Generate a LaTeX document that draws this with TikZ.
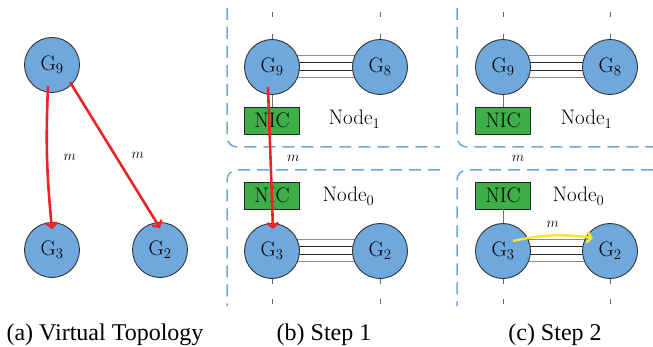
\documentclass[tikz,border=0pt]{standalone}
\usepackage{fontspec}
\usepackage{tikz}
\usetikzlibrary{arrows.meta,backgrounds}
\newfontfamily\capfont{Liberation Serif}
\definecolor{gpublue}{HTML}{6FA8DC}
\definecolor{nicgreen}{HTML}{3DAE48}
\definecolor{boxblue}{HTML}{6FA8DC}
\definecolor{msgred}{HTML}{EE2229}
\definecolor{msgyellow}{HTML}{F2E52C}

\begin{document}
\begin{tikzpicture}[x=1pt, y=-1pt, line join=round,
    every node/.append style={font=\fontsize{21}{25}\selectfont},
    gpu/.style={circle, draw=black!80, line width=0.9pt, fill=gpublue, minimum size=55pt, inner sep=0pt},
    nic/.style={rectangle, draw=black!85, line width=0.9pt, fill=nicgreen, minimum width=55pt, minimum height=27pt, inner sep=0pt},
    hostbox/.style={draw=boxblue, line width=1.5pt, dash pattern=on 12pt off 7pt, rounded corners=10pt},
    tick/.style={draw=black!60, line width=0.8pt, dash pattern=on 5pt off 17pt},
    link/.style={draw=black!55, line width=1pt},
    msg/.style={msgred, line width=2.6pt, -{Straight Barb[length=4.5pt,width=11pt]}},
    mlabel/.style={font=\fontsize{14.4}{17}\selectfont, text=black},
    caption/.style={anchor=base, font=\capfont\fontsize{24}{28}\selectfont}]
  \useasboundingbox (0,0) rectangle (653,347);

  % (a) virtual topology
  \node (a9) [gpu] at (52,65) {G\textsubscript{9}};
  \node (a3) [gpu] at (52,250) {G\textsubscript{3}};
  \node (a2) [gpu] at (160,250) {G\textsubscript{2}};
  \draw[msg] ([shift={(-4,21)}]a9.center) to[bend right=4]
    node[right=12pt, mlabel] {$m$} ([shift={(0,7)}]a3.north);
  \draw[msg] ([shift={(18,17)}]a9.center) --
    node[right=12pt, mlabel] {$m$} ([shift={(0,6)}]a2.north);
  \node (capa) [caption] at (105,340) {(a) Virtual Topology};

  % (b) step 1
  \draw[hostbox] (227,8) -- (227,147) -- (440,147);
  \draw[hostbox] (440,170) -- (227,170) -- (227,306);
  \node (b9) [gpu] at (272,67) {G\textsubscript{9}};
  \node (b8) [gpu] at (380,67) {G\textsubscript{8}};
  \node (bnic1) [nic] at (272,120.5) {NIC};
  \node (bnode1) [anchor=base west] at (325,125) {Node\textsubscript{1}};
  \node (bnic0) [nic] at (272,195.5) {NIC};
  \node (bnode0) [anchor=base west] at (319,202) {Node\textsubscript{0}};
  \node (b3) [gpu] at (272,251) {G\textsubscript{3}};
  \node (b2) [gpu] at (380,251) {G\textsubscript{2}};
  \draw[link] (b9) -- (bnic1);
  \draw[link] (bnic0) -- (b3);
  \draw[tick] (b9.north) -- ++(0,-27);
  \draw[tick] (b8.north) -- ++(0,-27);
  \draw[tick, dash pattern=on 5pt off 15pt] (b3.south) -- ++(0,25);
  \draw[tick, dash pattern=on 5pt off 15pt] (b2.south) -- ++(0,25);
  \draw[msg] ([shift={(-4,20)}]b9.center) --
    node[right=12pt, mlabel] {$m$} ([shift={(1,6)}]b3.north);
  \node (capb) [caption] at (324,340) {(b) Step 1};

  % (c) step 2
  \draw[hostbox] (457,8) -- (457,147) -- (653,147);
  \draw[hostbox] (653,170) -- (457,170) -- (457,306);
  \node (c9) [gpu] at (503,67) {G\textsubscript{9}};
  \node (c8) [gpu] at (610,67) {G\textsubscript{8}};
  \node (cnic1) [nic] at (503,120.5) {NIC};
  \node (cnode1) [anchor=base west] at (557,125) {Node\textsubscript{1}};
  \node (cnic0) [nic] at (503,195.5) {NIC};
  \node (cnode0) [anchor=base west] at (549,202) {Node\textsubscript{0}};
  \node (c3) [gpu] at (503,251) {G\textsubscript{3}};
  \node (c2) [gpu] at (610,251) {G\textsubscript{2}};
  \draw[link] (c9) -- (cnic1);
  \draw[link] (cnic0) -- (c3);
  \draw[tick] (c9.north) -- ++(0,-27);
  \draw[tick] (c8.north) -- ++(0,-27);
  \draw[tick, dash pattern=on 5pt off 15pt] (c3.south) -- ++(0,25);
  \draw[tick, dash pattern=on 5pt off 15pt] (c2.south) -- ++(0,25);
  \node (cm) [mlabel] at (518,158) {$m$};
  \draw[msgyellow, line width=2.4pt, -{Straight Barb[length=4.5pt,width=11pt]}]
    ([shift={(10,-10)}]c3.center) to[bend left=10]
    node[above=3pt, mlabel] {$m$} ([shift={(-17,-13)}]c2.center);
  \node (capc) [caption] at (555,340) {(c) Step 2};

  % NVLink bundles between GPUs
  \begin{scope}[on background layer]
    \foreach \dy/\c in {-11/black!45, -4/black!85, 4/black!85, 11/black!45} {
      \draw[line width=1pt, draw=\c] ([shift={(0,\dy)}]b9.center) -- ([shift={(0,\dy)}]b8.center);
      \draw[line width=1pt, draw=\c] ([shift={(0,\dy)}]b3.center) -- ([shift={(0,\dy)}]b2.center);
      \draw[line width=1pt, draw=\c] ([shift={(0,\dy)}]c9.center) -- ([shift={(0,\dy)}]c8.center);
      \draw[line width=1pt, draw=\c] ([shift={(0,\dy)}]c3.center) -- ([shift={(0,\dy)}]c2.center);
    }
  \end{scope}
\end{tikzpicture}
\end{document}
